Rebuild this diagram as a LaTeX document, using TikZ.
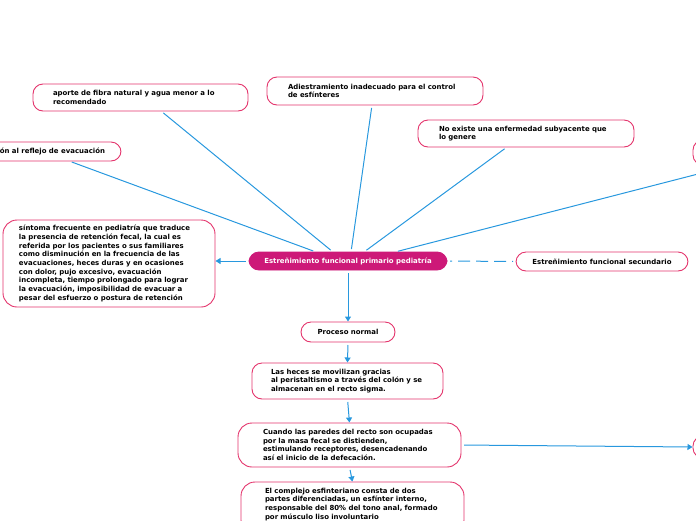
\documentclass[tikz,border=0pt]{standalone}
\usepackage{fontspec}
\newfontfamily\mapfont{DejaVu Sans}
\usetikzlibrary{arrows.meta}
\definecolor{boxpink}{RGB}{228,52,108}
\definecolor{mainmag}{RGB}{205,25,120}
\definecolor{linkblue}{RGB}{40,152,222}
\tikzset{%
  topic/.style={draw=boxpink, fill=white, line width=0.9pt, rounded corners=10pt,
    font=\fontsize{6.95}{8.7}\selectfont\mapfont\bfseries, align=left,
    inner ysep=3pt, outer sep=0pt, anchor=north west},
  main topic/.style={topic, fill=mainmag, draw=mainmag, text=white, align=center},
  link/.style={draw=linkblue, line width=1pt, shorten <=3pt, shorten >=3pt},
  arrow link/.style={link, shorten >=0.5pt, -{Triangle[length=5pt,width=6pt]}},
}

\begin{document}
\begin{tikzpicture}[x=1pt,y=-1pt]
  \useasboundingbox (0,0) rectangle (696,520);
  % central topic
  \node [main topic, minimum width=198pt, minimum height=18pt] (main) at (249,252)
    {Estreñimiento funcional primario pediatría};
  % causes above
  \node [topic, text width=175pt, inner xsep=20pt, minimum height=27pt] (aporte) at (33,84)
    {aporte de fibra natural y agua menor a lo\\recomendado};
  \node [topic, anchor=east, inner xsep=16pt, minimum height=19pt] (reflejo) at (121,151.5)
    {ón al reflejo de evacuación};
  \node [topic, text width=174pt, inner xsep=21pt, minimum height=28pt] (adiestra) at (267,77)
    {Adiestramiento inadecuado para el control\\de esfínteres};
  \node [topic, text width=174pt, inner xsep=21pt, minimum height=27pt] (noexiste) at (418,120)
    {No existe una enfermedad subyacente que\\lo genere};
  \node [topic, minimum width=100pt, minimum height=25pt] (otra) at (693,140) {};
  % definition
  \node [topic, text width=180pt, inner xsep=16pt, minimum height=87pt, rounded corners=14pt] (sintoma) at (3,220)
    {síntoma frecuente en pediatría que traduce\\
     la presencia de retención fecal, la cual es\\
     referida por los pacientes o sus familiares\\
     como disminución en la frecuencia de las\\
     evacuaciones, heces duras y en ocasiones\\
     con dolor, pujo excesivo, evacuación\\
     incompleta, tiempo prolongado para lograr\\
     la evacuación, imposibilidad de evacuar a\\
     pesar del esfuerzo o postura de retención};
  \node [main topic, fill=white, text=black, draw=boxpink, minimum width=172pt, minimum height=19pt] (secund) at (516,252)
    {Estreñimiento funcional secundario};
  % normal process
  \node [main topic, fill=white, text=black, draw=boxpink, minimum width=94pt, minimum height=20pt] (proceso) at (301,322)
    {Proceso normal};
  \node [topic, text width=153pt, inner xsep=19pt, minimum height=36pt] (heces) at (252,363)
    {Las heces se movilizan gracias\\al peristaltismo a través del colón y se\\almacenan en el recto sigma.};
  \node [topic, text width=173pt, inner xsep=25pt, minimum height=44pt, rounded corners=14pt] (cuando) at (238,423)
    {Cuando las paredes del recto son ocupadas\\por la masa fecal se distienden,\\estimulando receptores, desencadenando\\así el inicio de la defecación.};
  \node [topic, text width=175pt, inner xsep=24pt, minimum height=50pt, inner ysep=6pt, rounded corners=14pt] (complejo) at (241,482)
    {El complejo esfinteriano consta de dos\\partes diferenciadas, un esfínter interno,\\responsable del 80\% del tono anal, formado\\por músculo liso involuntario\\\mbox{}};
  \node [topic, minimum width=100pt, minimum height=22pt] (siguiente) at (693,436) {};
  % connectors
  \draw [link] ([xshift=-15pt]main.north) -- ([xshift=20.5pt]aporte.south);
  \draw [link] ([xshift=-32pt]main.north) -- ([xshift=-52pt]reflejo.south east);
  \draw [link] ([xshift=3pt]main.north) -- ([xshift=-3pt]adiestra.south);
  \draw [link] ([xshift=16pt]main.north) -- ([xshift=-19pt]noexiste.south);
  \draw [link] ([xshift=47pt]main.north) -- ([xshift=40pt]otra.south west);
  \draw [arrow link] (main.west) -- (main.west -| sintoma.east);
  \draw [link, dash pattern=on 12pt off 6pt, dash phase=10pt] (main.east) -- (secund.west);
  \draw [arrow link] (main.south) -- (proceso.north);
  \draw [arrow link] (proceso.south) -- (heces.north);
  \draw [arrow link] (heces.south) -- (cuando.north);
  \draw [arrow link] (cuando.south) -- (complejo.north);
  \draw [arrow link] (cuando.east) -- (siguiente.west);
\end{tikzpicture}
\end{document}
